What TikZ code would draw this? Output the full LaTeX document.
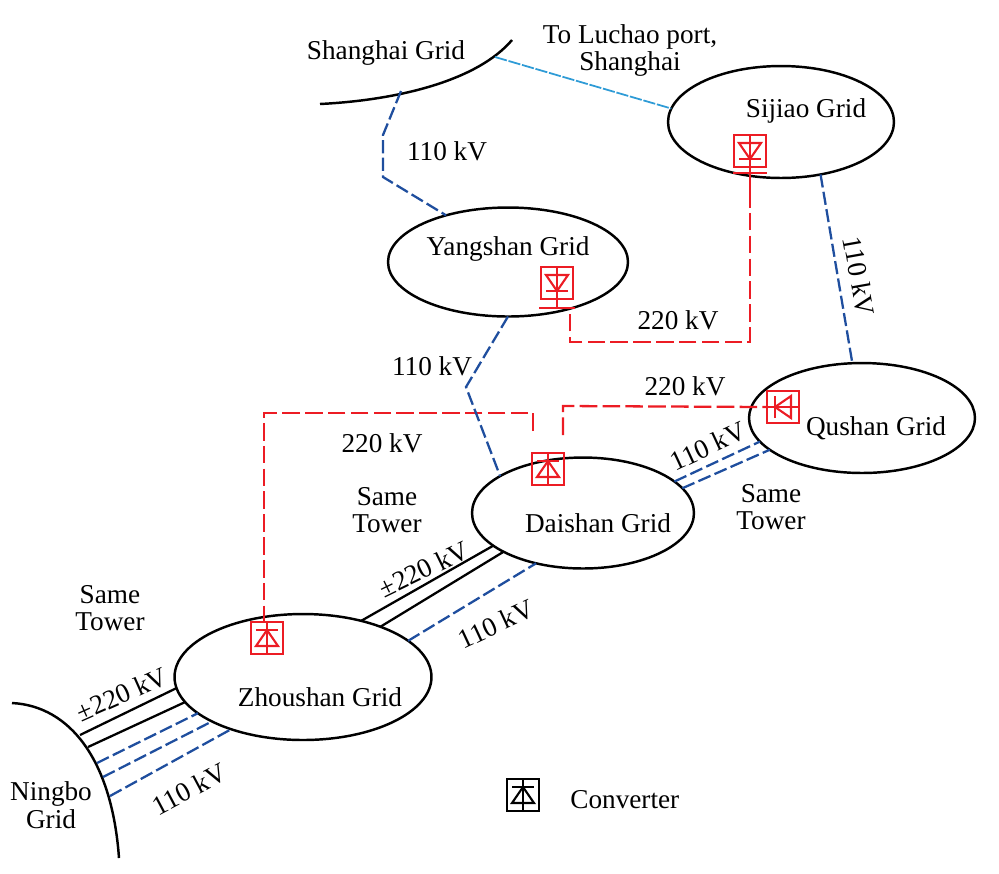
\documentclass[tikz,border=0pt]{standalone}
\usepackage{fontspec}
\setmainfont{Liberation Serif}
\usetikzlibrary{shapes.geometric}
\definecolor{GridBlue}{HTML}{1F4E9E}
\definecolor{GridRed}{HTML}{EC1C24}
\definecolor{GridCyan}{HTML}{2E9BD6}
\tikzset{
  gridarea/.style={draw=black, ellipse, line width=1.4pt, inner sep=0pt, outer sep=0pt},
  boundary/.style={draw=black, line width=1.4pt},
  dcline/.style={draw=black, line width=1.3pt},
  blueline/.style={draw=GridBlue, line width=1.3pt, dash pattern=on 7.5pt off 2.5pt},
  redline/.style={draw=GridRed, line width=1.3pt, dash pattern=on 10pt off 3pt},
  cyanline/.style={draw=GridCyan, line width=1pt, dash pattern=on 7pt off 1pt},
  redstub/.style={draw=GridRed, line width=1.3pt},
  tag/.style={font=\fontsize{15.5}{15.5}\selectfont, align=center, inner sep=0pt, yshift=-1.2pt},
  convbox/.style={draw, line width=1.3pt, minimum size=0.64cm, inner sep=0pt, outer sep=0pt},
  pics/converter/.style={code={
    \node[convbox, #1] (-box) at (0,0) {};
    \draw[#1, line width=1.2pt] (0,-8) -- (11,8) -- (-11,8) -- cycle;
    \draw[#1, line width=1.2pt] (-11,-8) -- (11,-8);
    \draw[#1, line width=1.2pt] (0,-16) -- (0,16);
  }},
}
\begin{document}
\begin{tikzpicture}[x=0.02cm, y=-0.02cm]
  \useasboundingbox (0,0) rectangle (999,873);

  % grid areas
  \node[gridarea, minimum width=4.52cm, minimum height=2.24cm] (sijiao) at (781,122) {};
  \node[gridarea, minimum width=4.8cm, minimum height=2.18cm] (yangshan) at (508,262) {};
  \node[gridarea, minimum width=4.52cm, minimum height=2.2cm] (qushan) at (862,418) {};
  \node[gridarea, minimum width=4.44cm, minimum height=2.22cm] (daishan) at (583,513) {};
  \node[gridarea, minimum width=5.14cm, minimum height=2.52cm] (zhoushan) at (303,677) {};

  \node[tag] (sijiaotag) at (806,109) {Sijiao Grid};
  \node[tag] (yangshantag) at (508,247) {Yangshan Grid};
  \node[tag] (qushantag) at (876,426) {Qushan Grid};
  \node[tag] (daishantag) at (598,521) {Daishan Grid};
  \node[tag] (zhoushantag) at (320,695) {Zhoushan Grid};

  % outer grids
  \coordinate (shanghaiA) at (320,104);
  \coordinate (shanghaiB) at (512,40);
  \coordinate (ningboA) at (12,703);
  \coordinate (ningboB) at (119,858);
  \draw[boundary] (shanghaiA) .. controls (400,100) and (478,80) .. (shanghaiB);
  \draw[boundary] (ningboA) .. controls (70,706) and (112,760) .. (ningboB);
  \node[tag] (shanghaitag) at (386,51) {Shanghai Grid};
  \node[tag] (ningbotag) at (51,803) {Ningbo\\Grid};
  \node[tag] (luchaotag) at (630,48) {To Luchao port,\\Shanghai};

  % converters
  \pic[rotate=180] (sijiaoconv) at (750,151) {converter={GridRed}};
  \pic[rotate=180] (yangshanconv) at (557,283) {converter={GridRed}};
  \pic[rotate=90] (qushanconv) at (783,407) {converter={GridRed}};
  \pic (daishanconv) at (548,469) {converter={GridRed}};
  \pic (zhoushanconv) at (267,638) {converter={GridRed}};
  \pic (legendconv) at (523,795) {converter={black}};
  \node[tag, anchor=west] (legendtag) at (570,797) {Converter};

  % stubs below the two upper converters
  \coordinate (sijiaostub) at (750,190);
  \coordinate (yangshanstub) at (557,308);
  \draw[redstub] (733,173) -- (767,173);
  \draw[redstub] (539,308) -- (575,308);
  \draw[redstub] (sijiaoconv-box.south) -- (sijiaostub);
  \draw[redstub] (yangshanconv-box.south) -- (yangshanstub);

  % 220 kV links
  \coordinate (daishanendA) at (533,431);
  \coordinate (daishanendB) at (563,435);
  \coordinate (zhoushanend) at (264,622);
  \draw[redline] (sijiaostub) -- (750,342) -- (570,342) -- (570,308);
  \draw[redline] (daishanendA) -- (533,413) -- (264,413) -- (zhoushanend);
  \draw[redline] (daishanendB) -- (563,406) -- (qushanconv-box.west);

  % 110 kV links
  \coordinate (shanghaitap) at (401,91);
  \coordinate (luchaotap) at (495,57);
  \draw[blueline] (shanghaitap) -- (383,135) -- (383,177) -- (yangshan.143);
  \draw[cyanline] (luchaotap) -- (sijiao.173);
  \draw[blueline] (sijiao.307) -- (qushan.100);
  \draw[blueline] (yangshan.270) -- (466,387) -- (daishan.156);
  \draw[blueline] (daishan.19) -- (qushan.193);
  \draw[blueline] (daishan.14) -- (qushan.199);
  \draw[blueline] (zhoushan.19) -- (daishan.227);

  % dc links
  \draw[dcline] (zhoushan.44) -- (daishan.200);
  \draw[dcline] (zhoushan.33) -- (daishan.206);

  % ningbo bundle
  \coordinate (ningboC) at (80,735);
  \coordinate (ningboD) at (88,747);
  \coordinate (ningboE) at (97,763);
  \coordinate (ningboF) at (103,777);
  \coordinate (ningboG) at (110,796);
  \draw[dcline] (ningboC) -- (zhoushan.185);
  \draw[dcline] (ningboD) -- (zhoushan.192);
  \draw[blueline] (ningboE) -- (zhoushan.199);
  \draw[blueline] (ningboF) -- (zhoushan.206);
  \draw[blueline] (ningboG) -- (zhoushan.216);

  % voltage labels
  \node[tag] (kvA) at (447,149) {110 kV};
  \node[tag, rotate=-80] (kvB) at (859,274) {110 kV};
  \node[tag] (kvC) at (678,318) {220 kV};
  \node[tag] (kvD) at (432,364) {110 kV};
  \node[tag] (kvE) at (685,384) {220 kV};
  \node[tag] (kvF) at (382,441) {220 kV};
  \node[tag, rotate=25] (kvG) at (708,444) {110 kV};
  \node[tag, rotate=26] (kvH) at (424,567) {±220 kV};
  \node[tag, rotate=25] (kvI) at (496,622) {110 kV};
  \node[tag, rotate=24] (kvJ) at (122,692) {±220 kV};
  \node[tag, rotate=28] (kvK) at (189,787) {110 kV};

  \node[tag] (towerA) at (387,508) {Same\\Tower};
  \node[tag] (towerB) at (771,505) {Same\\Tower};
  \node[tag] (towerC) at (110,606) {Same\\Tower};
\end{tikzpicture}
\end{document}
